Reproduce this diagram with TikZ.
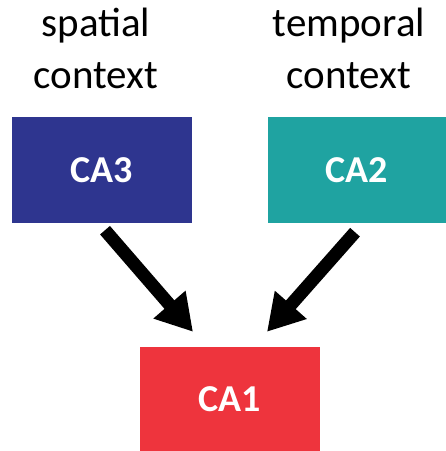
\documentclass[tikz,border=0pt]{standalone}
\usepackage{fontspec}
\setmainfont{Carlito}
\usetikzlibrary{arrows.meta}
\definecolor{cathree}{RGB}{46,53,143}
\definecolor{catwo}{RGB}{31,163,161}
\definecolor{caone}{RGB}{238,52,61}
\begin{document}
\begin{tikzpicture}[x=1pt,y=-1pt,
  region/.style={inner sep=0pt, text=white, font=\fontsize{38}{44}\selectfont\bfseries},
  label/.style={align=center, font=\fontsize{41}{52}\selectfont},
  flow/.style={line width=13pt, -{Triangle[width=40pt,length=36pt]}}]
\useasboundingbox (0,0) rectangle (446,451);
\node[region, fill=cathree, minimum width=180pt, minimum height=106pt] (ca3) at (102,170) {CA3};
\node[region, fill=catwo, minimum width=178pt, minimum height=106pt] (ca2) at (357,170) {CA2};
\node[region, fill=caone, minimum width=180pt, minimum height=104pt] (ca1) at (230,399) {CA1};
\node[label] (sp) at (96,48) {spatial\\context};
\node[label] (tp) at (349,48) {temporal\\context};
\path (ca3.south) ++(3,7) coordinate (a3);
\path (ca2.south) ++(-2,9) coordinate (a2);
\path (ca1.north) ++(-37,-15) coordinate (b3);
\path (ca1.north) ++(37,-15) coordinate (b2);
\draw[flow] (a3) -- (b3);
\draw[flow] (a2) -- (b2);
\end{tikzpicture}
\end{document}
